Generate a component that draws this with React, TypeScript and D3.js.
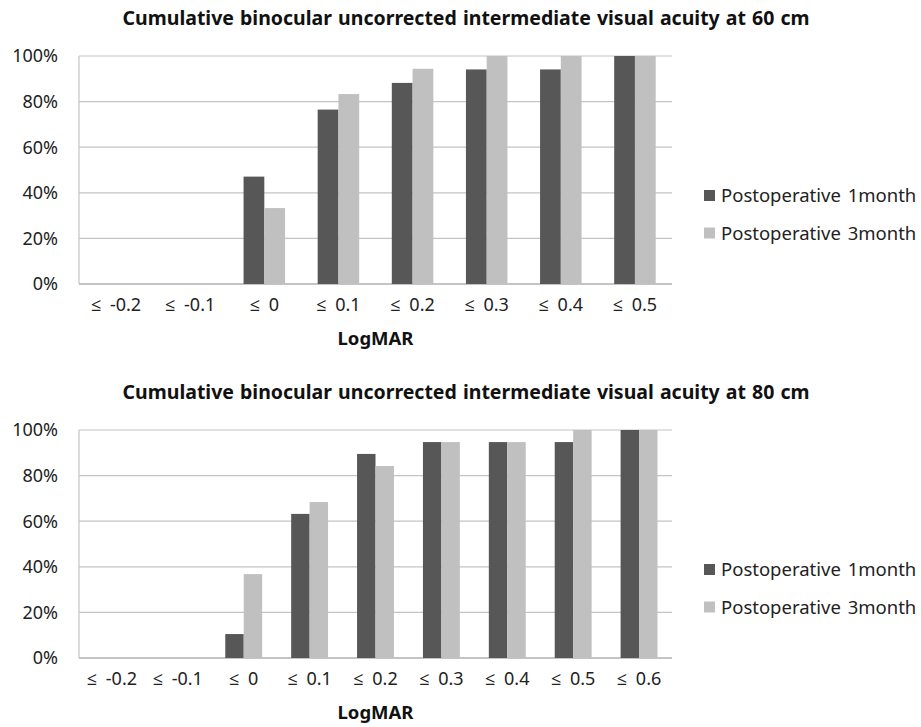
import React, { useEffect, useRef } from 'react';
import * as d3 from 'd3';

// chart data
const seriesNames = ['Postoperative 1month', 'Postoperative 3month'];
const seriesColors = ['#575757', '#c0c0c0'];

const cats60 = ['≤ -0.2', '≤ -0.1', '≤ 0', '≤ 0.1', '≤ 0.2', '≤ 0.3', '≤ 0.4', '≤ 0.5'];
const month1at60 = [0, 0, 47.1, 76.5, 88.2, 94.1, 94.1, 100];
const month3at60 = [0, 0, 33.3, 83.3, 94.4, 100, 100, 100];

const cats80 = ['≤ -0.2', '≤ -0.1', '≤ 0', '≤ 0.1', '≤ 0.2', '≤ 0.3', '≤ 0.4', '≤ 0.5', '≤ 0.6'];
const month1at80 = [0, 0, 10.5, 63.2, 89.5, 94.7, 94.7, 94.7, 100];
const month3at80 = [0, 0, 36.8, 68.4, 84.2, 94.7, 94.7, 100, 100];

const yTicks = [0, 20, 40, 60, 80, 100];

const FONT = '"Noto Sans", "Open Sans", sans-serif';

function drawChart(svg, top, title, cats, s1, s2) {
  // plot area
  const left = 79;
  const right = 672;
  const plotTop = top;
  const plotBottom = top + 228;

  const g = svg.append('g');

  const x = d3.scaleBand().domain(cats).range([left, right]).paddingInner(0).paddingOuter(0);
  const x1 = d3.scaleBand().domain(['a', 'b']).range([0, x.bandwidth() * 0.56]);
  const y = d3.scaleLinear().domain([0, 100]).range([plotBottom, plotTop]);

  // gridlines
  g.selectAll('line.grid')
    .data(yTicks)
    .enter()
    .append('line')
    .attr('x1', left)
    .attr('x2', right)
    .attr('y1', d => y(d))
    .attr('y2', d => y(d))
    .attr('stroke', d => (d === 0 ? '#b0b0b0' : '#c4c4c4'))
    .attr('stroke-width', d => (d === 0 ? 1.5 : 1.2));

  // left axis line
  g.append('line')
    .attr('x1', left)
    .attr('x2', left)
    .attr('y1', plotTop)
    .attr('y2', plotBottom)
    .attr('stroke', '#c4c4c4')
    .attr('stroke-width', 1.2);

  const rows = cats.map((c, i) => ({ cat: c, vals: [s1[i], s2[i]] }));
  const groups = g.selectAll('g.cat')
    .data(rows)
    .enter()
    .append('g')
    .attr('transform', d => `translate(${x(d.cat) + x.bandwidth() * 0.22},0)`);

  groups.selectAll('rect')
    .data(d => d.vals.map((v, k) => ({ v, k })))
    .enter()
    .append('rect')
    .attr('x', d => x1(d.k === 0 ? 'a' : 'b'))
    .attr('width', x1.bandwidth())
    .attr('y', d => y(d.v))
    .attr('height', d => plotBottom - y(d.v))
    .attr('fill', d => seriesColors[d.k]);

  // y tick labels
  g.selectAll('text.ytick')
    .data(yTicks)
    .enter()
    .append('text')
    .attr('x', 58)
    .attr('y', d => y(d))
    .attr('dy', '0.35em')
    .attr('text-anchor', 'end')
    .attr('font-family', FONT)
    .attr('font-size', 18)
    .attr('fill', '#222')
    .text(d => d + '%');

  // x tick labels
  g.selectAll('text.xtick')
    .data(cats)
    .enter()
    .append('text')
    .attr('x', d => x(d) + x.bandwidth() / 2)
    .attr('y', plotBottom + 21)
    .attr('dy', '0.35em')
    .attr('text-anchor', 'middle')
    .attr('font-family', FONT)
    .attr('font-size', 18)
    .attr('word-spacing', 4)
    .attr('fill', '#222')
    .text(d => d);

  // axis title
  g.append('text')
    .attr('x', (left + right) / 2)
    .attr('y', plotBottom + 55)
    .attr('dy', '0.35em')
    .attr('text-anchor', 'middle')
    .attr('font-family', FONT)
    .attr('font-size', 18.5)
    .attr('font-weight', 'bold')
    .attr('fill', '#111')
    .text('LogMAR');

  // chart title
  g.append('text')
    .attr('x', 466)
    .attr('y', plotTop - 38)
    .attr('dy', '0.35em')
    .attr('text-anchor', 'middle')
    .attr('font-family', FONT)
    .attr('font-size', 19.5)
    .attr('font-weight', 'bold')
    .attr('word-spacing', 1)
    .attr('fill', '#111')
    .text(title);

  // legend
  const legend = g.selectAll('g.legend')
    .data(seriesNames)
    .enter()
    .append('g')
    .attr('transform', (d, i) => `translate(704,${plotTop + 140 + i * 37.5})`);

  legend.append('rect')
    .attr('x', 0)
    .attr('y', -6)
    .attr('width', 11)
    .attr('height', 11)
    .attr('fill', (d, i) => seriesColors[i]);

  legend.append('text')
    .attr('x', 17)
    .attr('y', 0)
    .attr('dy', '0.35em')
    .attr('font-family', FONT)
    .attr('font-size', 18.5)
    .attr('word-spacing', 2)
    .attr('fill', '#222')
    .text(d => d);
}

function App() {
  const ref = useRef(null);

  useEffect(() => {
    const svg = d3.select(ref.current);
    svg.selectAll('*').remove();
    svg.append('rect').attr('width', 921).attr('height', 727).attr('fill', 'white');

    drawChart(svg, 56, 'Cumulative binocular uncorrected intermediate visual acuity at 60 cm', cats60, month1at60, month3at60);
    drawChart(svg, 430, 'Cumulative binocular uncorrected intermediate visual acuity at 80 cm', cats80, month1at80, month3at80);
  }, []);

  return (
    <div style={{ position: 'absolute', left: 0, top: 0 }}>
      <svg ref={ref} width={921} height={727}></svg>
    </div>
  );
}

export default App;
